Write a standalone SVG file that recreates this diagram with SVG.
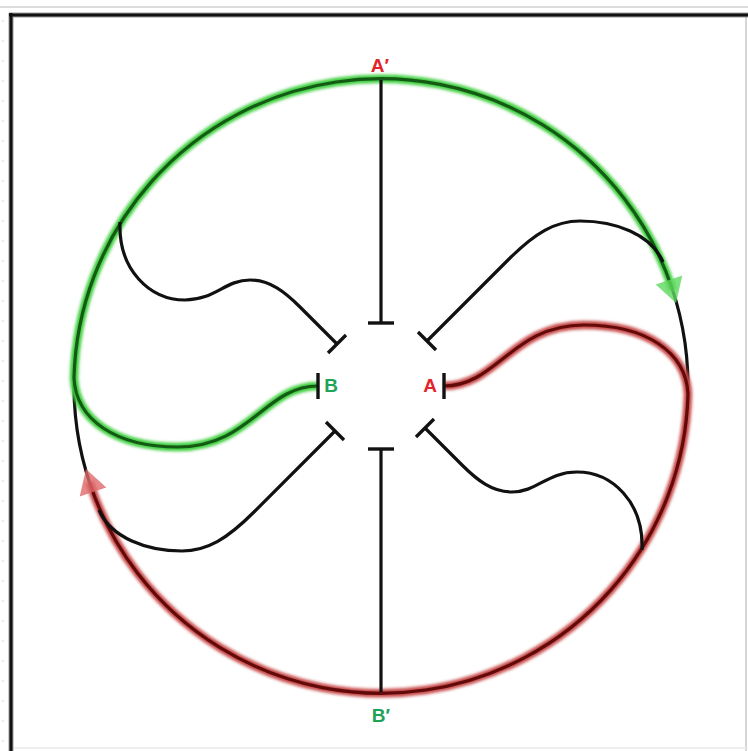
<svg xmlns="http://www.w3.org/2000/svg" width="748" height="751" viewBox="0 0 748 751">
  <defs>
    <filter id="glow" x="-10%" y="-10%" width="120%" height="120%">
      <feGaussianBlur stdDeviation="1.5"/>
    </filter>
    <style>
      .blk { fill: none; stroke: #111; stroke-width: 3.2; stroke-linecap: butt; stroke-linejoin: round; }
      .bar { fill: none; stroke: #111; stroke-width: 3.4; stroke-linecap: butt; }
      .gGlow { fill: none; stroke: #3fcf3f; stroke-width: 8.5; stroke-linecap: butt; filter: url(#glow); }
      .gCore { fill: none; stroke: #145a14; stroke-width: 3.2; stroke-linecap: butt; }
      .rGlow { fill: none; stroke: #c84b4b; stroke-width: 8.5; stroke-linecap: butt; filter: url(#glow); }
      .rCore { fill: none; stroke: #620909; stroke-width: 3.2; stroke-linecap: butt; }
      .lbl { font-family: "Liberation Sans", Arial, sans-serif; font-weight: bold; font-size: 19px; text-anchor: middle; }
      .red { fill: #e3242b; }
      .grn { fill: #1fa35a; }
    </style>
  </defs>

  <g id="frame">
    <rect x="0" y="0" width="748" height="751" fill="#ffffff"/>
    <line x1="0" y1="7" x2="748" y2="7" stroke="#dcdcdc" stroke-width="2"/>
    <line x1="3" y1="20" x2="3" y2="751" stroke="#d8d8d8" stroke-width="1" stroke-dasharray="2 18"/>
    <line x1="746" y1="17" x2="746" y2="751" stroke="#d6d6d6" stroke-width="2"/>
    <line x1="12" y1="748" x2="746" y2="748" stroke="#eeeeee" stroke-width="2"/>
    <line x1="9" y1="15" x2="748" y2="15" stroke="#9a9a9a" stroke-width="5"/>
    <line x1="11" y1="13" x2="11" y2="751" stroke="#9a9a9a" stroke-width="5"/>
    <line x1="9" y1="15" x2="748" y2="15" stroke="#111" stroke-width="3"/>
    <line x1="11" y1="13" x2="11" y2="751" stroke="#111" stroke-width="3"/>
  </g>

  <g id="connectors">
    <!-- base black ring -->
    <circle id="ring" cx="381" cy="386" r="307" class="blk"/>

    <!-- green path: B -> left -> over the top -> arrow -->
    <g id="green-path">
      <path class="gGlow" d="M318 386 C265 386 250 447 178 447 C116 447 76 420 74 378 A307 307 0 0 1 672.6 290"/>
      <path class="gCore" d="M318 386 C265 386 250 447 178 447 C116 447 76 420 74 378 A307 307 0 0 1 672.6 290"/>
      <polygon points="676,303 682.3,275.6 655.7,284.4" fill="#5fd85f" fill-opacity="0.8"/>
    </g>

    <!-- red path: A -> right -> along bottom -> arrow -->
    <g id="red-path">
      <path class="rGlow" d="M444 386 C497 386 512 325 584 325 C646 325 686 352 688 394 A307 307 0 0 1 89.4 482"/>
      <path class="rCore" d="M444 386 C497 386 512 325 584 325 C646 325 686 352 688 394 A307 307 0 0 1 89.4 482"/>
      <polygon points="86,469 79.7,496.4 106.3,487.6" fill="#e06a6a" fill-opacity="0.8"/>
    </g>

    <!-- inhibitory black connectors -->
    <g id="inhibit-top">
      <path class="blk" d="M381 80 L381 323"/>
      <path class="bar" d="M368 323 L394 323"/>
    </g>
    <g id="inhibit-bottom">
      <path class="blk" d="M381 692 L381 449"/>
      <path class="bar" d="M368 449 L394 449"/>
    </g>
    <g id="inhibit-upper-left">
      <path class="blk" d="M120 222 C118 270 150 300 185 300 C215 300 225 280 250 280 C270 280 285 292 300 307 L337 344"/>
      <path class="bar" d="M328 353 L346 335"/>
    </g>
    <g id="inhibit-upper-right">
      <path class="blk" d="M427 341 L508 260 C535 233 555 221 580 221 C615 221 651 234 663 262"/>
      <path class="bar" d="M418 332 L436 350"/>
    </g>
    <g id="inhibit-lower-left">
      <path class="blk" d="M335 431 L254 512 C227 539 207 551 182 551 C147 551 111 538 99 510"/>
      <path class="bar" d="M326 422 L344 440"/>
    </g>
    <g id="inhibit-lower-right">
      <path class="blk" d="M642 550 C644 502 612 472 577 472 C547 472 537 492 512 492 C492 492 477 480 462 465 L425 428"/>
      <path class="bar" d="M416 437 L434 419"/>
    </g>
    <g id="bars-AB">
      <path class="bar" d="M318 373 L318 399"/>
      <path class="bar" d="M444 373 L444 399"/>
    </g>
  </g>

  <g id="node-A-prime"><text class="lbl red" x="380" y="72">A′</text></g>
  <g id="node-B-prime"><text class="lbl grn" x="381" y="722">B′</text></g>
  <g id="node-B"><text class="lbl grn" x="331" y="392">B</text></g>
  <g id="node-A"><text class="lbl red" x="430" y="392">A</text></g>
</svg>
